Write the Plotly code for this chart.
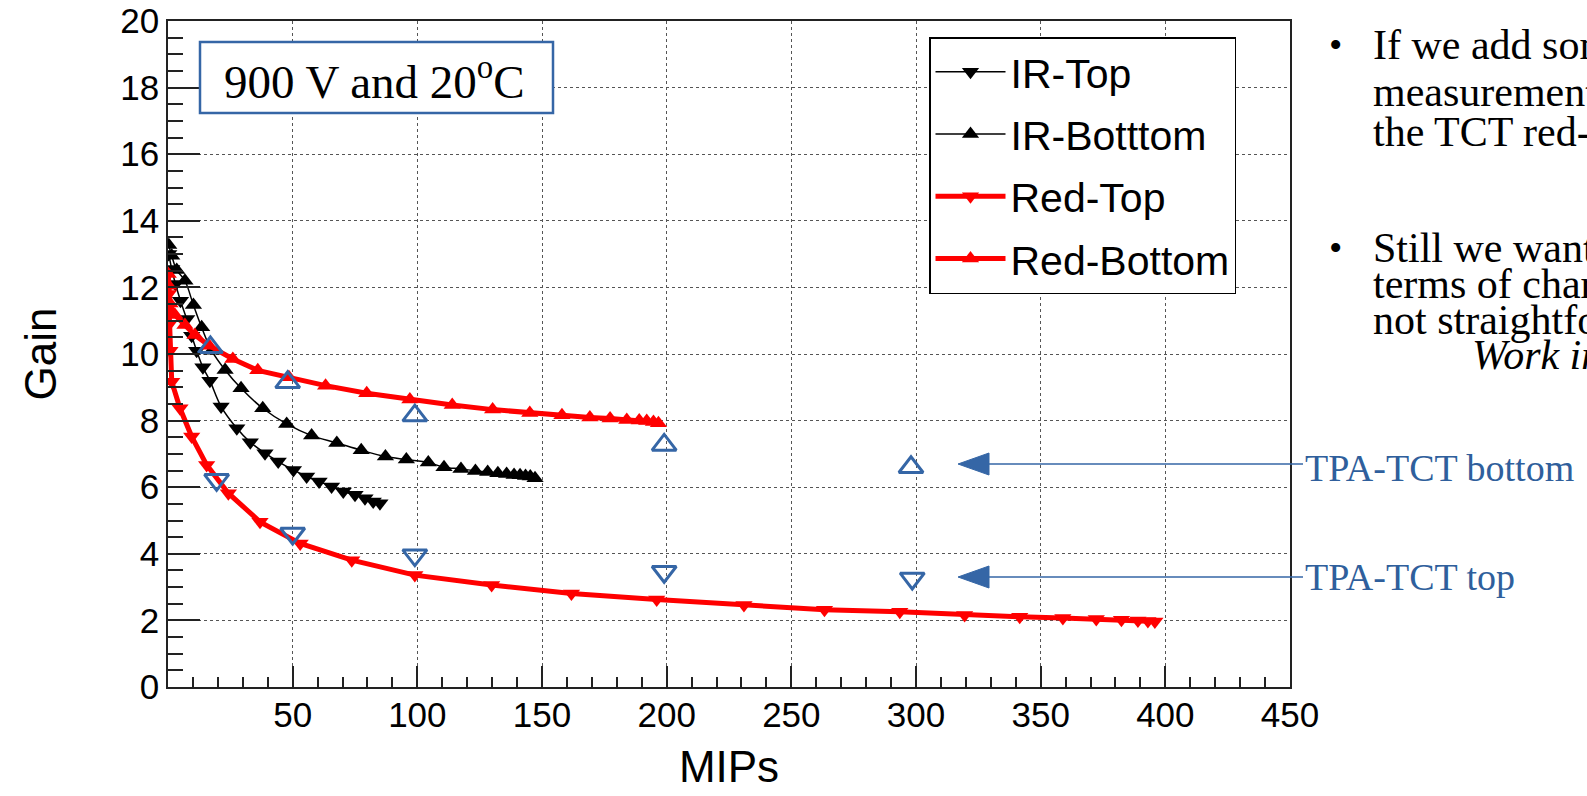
import plotly.graph_objects as go

# ---------------- data ----------------
ir_top_x = [0.3, 1.5, 3.0, 5.0, 7.5, 9.5, 11.5, 14.0, 16.8, 21.3, 27.6, 33.0, 38.9, 44.2,
            50.3, 55.6, 60.6, 65.6, 70.3, 75.0, 79.0, 82.3, 85.0]
ir_top_y = [13.0, 12.55, 12.1, 11.6, 11.05, 10.55, 10.1, 9.6, 9.2, 8.42, 7.77, 7.35, 7.02, 6.77,
            6.52, 6.32, 6.17, 6.02, 5.87, 5.77, 5.67, 5.57, 5.52]

ir_bot_x = [0.3, 1.5, 3.5, 6.8, 10.2, 13.5, 17.5, 22.9, 29.3, 38.0, 47.6, 57.6, 67.7, 77.5,
            87.2, 95.6, 104.4, 110.7, 117.5, 123.3, 128.2, 132.3, 135.8, 138.8, 141.2, 143.4,
            145.3, 147.2]
ir_bot_y = [13.27, 12.95, 12.52, 12.2, 11.47, 10.8, 10.1, 9.52, 8.97, 8.37, 7.9, 7.55, 7.33, 7.11,
            6.92, 6.83, 6.74, 6.6, 6.55, 6.49, 6.46, 6.42, 6.4, 6.37, 6.36, 6.34, 6.32, 6.27]

red_top_x = [0.2, 0.5, 0.8, 1.5, 4.8, 9.5, 15.5, 24.2, 36.9, 53.0, 73.7, 99.0, 129.8, 161.8,
             196.0, 231.0, 263.3, 293.5, 319.5, 341.6, 358.9, 372.3, 382.4, 389.0, 393.0, 395.8]
red_top_y = [11.8, 10.9, 10.1, 9.17, 8.37, 7.52, 6.67, 5.82, 4.96, 4.31, 3.81, 3.36, 3.06, 2.81,
             2.63, 2.46, 2.32, 2.26, 2.16, 2.11, 2.07, 2.04, 2.02, 2.0, 1.98, 1.97]

red_bot_x = [0.1, 0.3, 0.8, 2.8, 6.8, 10.8, 16.5, 26.0, 36.0, 48.5, 63.2, 79.7, 97.0, 114.0,
             130.2, 145.1, 158.0, 169.2, 177.3, 184.0, 189.0, 192.0, 194.7, 196.7]
red_bot_y = [12.4, 12.05, 11.52, 11.17, 10.87, 10.57, 10.25, 9.85, 9.51, 9.3, 9.05, 8.82, 8.63, 8.47,
             8.33, 8.23, 8.16, 8.09, 8.06, 8.02, 8.0, 7.99, 7.96, 7.92]

tpa_bot_x = [17, 48, 99, 199, 298]
tpa_bot_y = [10.2, 9.15, 8.15, 7.27, 6.6]
tpa_top_x = [19.5, 50, 99, 199, 298.5]
tpa_top_y = [6.22, 4.61, 3.96, 3.46, 3.26]

x_tickvals = [0, 50, 100, 150, 200, 250, 300, 350, 400, 450]
x_ticktext = ["", "50", "100", "150", "200", "250", "300", "350", "400", "450"]

bullet_lines_1 = ["If we add some", "measurements", "the TCT red-"]
bullet_lines_2 = ["Still we want", "terms of charge", "not straightforward"]
wip_text = "Work in progress"

# ---------------- layout geometry (pixels) ----------------
W, H = 1587, 796
L, R, T, B = 168, 1290, 21, 687


def px(xp):
    return (xp - L) / (R - L)


def py(yp):
    return (B - yp) / (B - T)


SANS = "Liberation Sans, Arial, sans-serif"
SERIF = "Liberation Serif, Times New Roman, serif"
BLUE = "#3566a6"
BLUE_TXT = "#2f5f9c"

fig = go.Figure()

fig.add_trace(go.Scatter(x=ir_top_x, y=ir_top_y, name="IR-Top", mode="lines+markers",
                         line=dict(color="black", width=1.5, shape="spline"),
                         marker=dict(symbol="triangle-down", size=15, color="black"),
                         legendgroup="a"))
fig.add_trace(go.Scatter(x=ir_bot_x, y=ir_bot_y, name="IR-Botttom", mode="lines+markers",
                         line=dict(color="black", width=1.5, shape="spline"),
                         marker=dict(symbol="triangle-up", size=15, color="black"),
                         legendgroup="b"))
fig.add_trace(go.Scatter(x=red_top_x, y=red_top_y, name="Red-Top", mode="lines+markers",
                         line=dict(color="#ff0000", width=5),
                         marker=dict(symbol="triangle-down", size=15, color="#ff0000"),
                         legendgroup="c"))
fig.add_trace(go.Scatter(x=red_bot_x, y=red_bot_y, name="Red-Bottom", mode="lines+markers",
                         line=dict(color="#ff0000", width=5),
                         marker=dict(symbol="triangle-up", size=15, color="#ff0000"),
                         legendgroup="d"))
fig.add_trace(go.Scatter(x=tpa_bot_x, y=tpa_bot_y, name="TPA-TCT bottom", mode="markers",
                         showlegend=False,
                         marker=dict(symbol="triangle-up-open", size=21, color=BLUE,
                                     line=dict(width=3, color=BLUE))))
fig.add_trace(go.Scatter(x=tpa_top_x, y=tpa_top_y, name="TPA-TCT top", mode="markers",
                         showlegend=False,
                         marker=dict(symbol="triangle-down-open", size=21, color=BLUE,
                                     line=dict(width=3, color=BLUE))))

axis_common = dict(showline=True, linecolor="#222", linewidth=1.5, mirror=True,
                   showgrid=True, gridcolor="#555", griddash="dot", gridwidth=1,
                   zeroline=False, ticks="inside", tickcolor="#222", automargin=False,
                   tickfont=dict(family=SANS, size=35, color="black"))

fig.update_xaxes(range=[0, 450], tickmode="array", tickvals=x_tickvals, ticktext=x_ticktext,
                 ticklen=21, tickwidth=1.5, ticklabelstandoff=-4,
                 minor=dict(tickmode="linear", tick0=0, dtick=10, ticklen=10, ticks="inside",
                            tickcolor="#222", showgrid=False),
                 title=dict(text="MIPs", font=dict(family=SANS, size=44, color="black"),
                            standoff=18),
                 **axis_common)
fig.update_yaxes(range=[0, 20], dtick=2, tick0=0, ticklen=32, tickwidth=1.5,
                 minor=dict(tickmode="linear", tick0=0, dtick=0.5, ticklen=15, ticks="inside",
                            tickcolor="#222", showgrid=False),
                 title=dict(text="Gain", font=dict(family=SANS, size=44, color="black"),
                            standoff=50),
                 **axis_common)

shapes = []
annotations = []

# condition box
shapes.append(dict(type="rect", xref="paper", yref="paper", x0=px(200), x1=px(553),
                   y0=py(113), y1=py(42), line=dict(color=BLUE, width=2.5),
                   fillcolor="white", layer="above"))
annotations.append(dict(xref="paper", yref="paper", x=px(374), y=py(78), showarrow=False,
                        text="900 V and 20<sup>o</sup>C", xanchor="center", yanchor="middle",
                        font=dict(family=SERIF, size=47, color="black")))

# arrows to TPA labels
for yy in (464, 577):
    shapes.append(dict(type="line", xref="paper", yref="paper", x0=px(985), x1=px(1303),
                       y0=py(yy), y1=py(yy), line=dict(color=BLUE, width=1.5)))
    shapes.append(dict(type="path", xref="paper", yref="paper",
                       path=f"M {px(958)} {py(yy)} L {px(989)} {py(yy - 11)} L {px(989)} {py(yy + 11)} Z",
                       fillcolor=BLUE, line=dict(color=BLUE, width=1)))

annotations.append(dict(xref="paper", yref="paper", x=px(1303), y=py(468), showarrow=False,
                        text="TPA-TCT bottom", xanchor="left", yanchor="middle",
                        font=dict(family=SERIF, size=38, color=BLUE_TXT)))
annotations.append(dict(xref="paper", yref="paper", x=px(1303), y=py(577), showarrow=False,
                        text="TPA-TCT top", xanchor="left", yanchor="middle",
                        font=dict(family=SERIF, size=38, color=BLUE_TXT)))

TXT = 42


# bullet text on the right
def add_bullet_block(lines, ys):
    annotations.append(dict(xref="paper", yref="paper", x=px(1335), y=py(ys[0]), showarrow=False,
                            text="•", xanchor="center", yanchor="middle",
                            font=dict(family=SERIF, size=TXT - 4, color="black")))
    for t, yy in zip(lines, ys):
        annotations.append(dict(xref="paper", yref="paper", x=px(1371), y=py(yy),
                                showarrow=False, text=t, xanchor="left", yanchor="middle",
                                font=dict(family=SERIF, size=TXT, color="black")))


add_bullet_block(bullet_lines_1, [45, 92, 132])
add_bullet_block(bullet_lines_2, [248, 284, 320])
annotations.append(dict(xref="paper", yref="paper", x=px(1470), y=py(355), showarrow=False,
                        text=f"<i>{wip_text}</i>", xanchor="left", yanchor="middle",
                        font=dict(family=SERIF, size=TXT, color="black")))

fig.update_layout(
    template="none",
    width=W, height=H, autosize=False,
    margin=dict(l=L, r=W - R, t=T, b=H - B, pad=0),
    paper_bgcolor="white", plot_bgcolor="white",
    shapes=shapes, annotations=annotations,
    legend=dict(x=px(929), y=py(37), xanchor="left", yanchor="top",
                bgcolor="white", bordercolor="black", borderwidth=1.5,
                font=dict(family=SANS, size=41, color="black"),
                tracegroupgap=6, itemwidth=70),
    showlegend=True,
)

fig.write_html("out.html", config={"displayModeBar": False},
               post_script="document.body.style.margin='0';document.body.style.overflow='hidden';")
